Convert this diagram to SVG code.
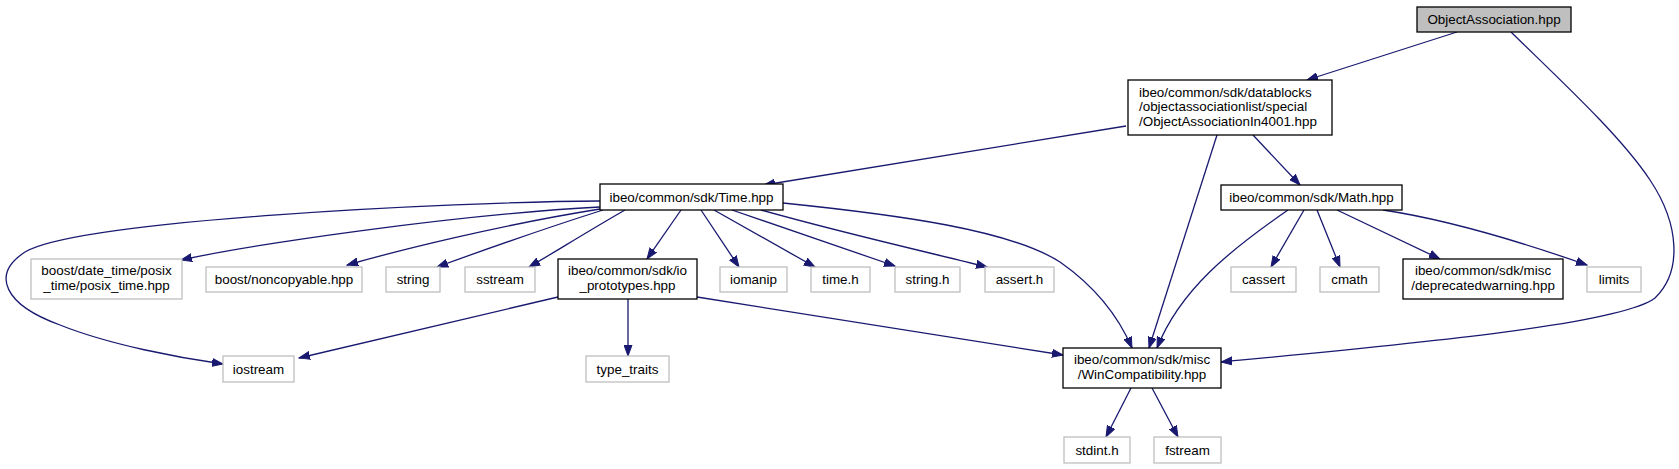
<svg xmlns="http://www.w3.org/2000/svg" width="1679" height="469" viewBox="0 0 1679 469">
<style>
.n rect{fill:#fff;stroke:#000;stroke-width:1.3}
.l rect{fill:#fff;stroke:#bfbfbf;stroke-width:1.3}
.r rect{fill:#bfbfbf;stroke:#000;stroke-width:1.3}
text{font-family:"Liberation Sans",Arial,sans-serif;font-size:13.4px;fill:#000;text-anchor:middle}
text.s{text-anchor:start}
#edges path{fill:none;stroke:#191970;stroke-width:1.3;marker-end:url(#a)}
</style>
<defs>
<marker id="a" markerUnits="userSpaceOnUse" markerWidth="12" markerHeight="9" refX="11" refY="4.5" orient="auto">
<path d="M0,0.5 L11,4.5 L0,8.5 z" fill="#191970" stroke="#191970" stroke-width="1"/>
</marker>
</defs>
<rect width="1679" height="469" fill="#fff"/>
<g id="edges">
<path d="M1457,32 L1307,80"/>
<path d="M1511,32 C1560,80 1620,135 1650,180 C1680,225 1682,272 1655,298 C1620,325 1400,345 1221,362"/>
<path d="M1126,126 L764,185"/>
<path d="M1217,135 L1149,348"/>
<path d="M1253,135 L1300,185"/>
<path d="M681,210 L647,259"/>
<path d="M701,210 L739,267"/>
<path d="M714,210 L815,267"/>
<path d="M732,210 L895,266"/>
<path d="M761,210 C850,235 940,255 987,267"/>
<path d="M783,203 C900,215 1010,230 1060,262 C1100,290 1120,320 1132,348"/>
<path d="M600,201 C450,202 80,220 25,252 C-10,275 5,305 60,325 C110,345 180,358 223,364"/>
<path d="M600,207 C450,215 250,245 181,260"/>
<path d="M600,209 C500,225 400,250 347,265"/>
<path d="M603,210 C540,230 470,255 437,267"/>
<path d="M625,210 C590,230 550,255 529,267"/>
<path d="M558,297 L299,358"/>
<path d="M628,299 L628,356"/>
<path d="M697,297 L1063,355"/>
<path d="M1288,210 C1230,250 1180,290 1157,348"/>
<path d="M1304,210 L1271,267"/>
<path d="M1317,210 L1340,267"/>
<path d="M1337,210 L1440,259"/>
<path d="M1383,210 C1450,220 1530,245 1587,265"/>
<path d="M1131,388 L1106,437"/>
<path d="M1152,388 L1178,437"/>
</g>
<g id="n_root" class="r"><rect x="1417" y="7" width="154" height="25"/><text x="1494" y="23.5">ObjectAssociation.hpp</text></g>
<g id="n_in4001" class="n"><rect x="1128" y="80" width="204" height="55"/><text class="s" x="1139" y="97">ibeo/common/sdk/datablocks</text><text class="s" x="1139" y="111">/objectassociationlist/special</text><text class="s" x="1139" y="125.5">/ObjectAssociationIn4001.hpp</text></g>
<g id="n_time" class="n"><rect x="600" y="184" width="183" height="26"/><text x="691.5" y="201.5">ibeo/common/sdk/Time.hpp</text></g>
<g id="n_math" class="n"><rect x="1221" y="185" width="181" height="25"/><text x="1311.5" y="202">ibeo/common/sdk/Math.hpp</text></g>
<g id="n_datetime" class="l"><rect x="31" y="259" width="151" height="40"/><text x="106.5" y="274.5">boost/date_time/posix</text><text x="106.5" y="290">_time/posix_time.hpp</text></g>
<g id="n_noncopyable" class="l"><rect x="206" y="267" width="156" height="25"/><text x="284" y="284">boost/noncopyable.hpp</text></g>
<g id="n_string" class="l"><rect x="386" y="267" width="54" height="25"/><text x="413" y="284">string</text></g>
<g id="n_sstream" class="l"><rect x="465" y="267" width="70" height="25"/><text x="500" y="284">sstream</text></g>
<g id="n_io" class="n"><rect x="558" y="259" width="139" height="40"/><text x="627.5" y="274.5">ibeo/common/sdk/io</text><text x="627.5" y="290">_prototypes.hpp</text></g>
<g id="n_iomanip" class="l"><rect x="720" y="267" width="67" height="25"/><text x="753.5" y="284">iomanip</text></g>
<g id="n_timeh" class="l"><rect x="811" y="267" width="59" height="25"/><text x="840.5" y="284">time.h</text></g>
<g id="n_stringh" class="l"><rect x="895" y="267" width="65" height="25"/><text x="927.5" y="284">string.h</text></g>
<g id="n_asserth" class="l"><rect x="985" y="267" width="69" height="25"/><text x="1019.5" y="284">assert.h</text></g>
<g id="n_cassert" class="l"><rect x="1231" y="267" width="65" height="25"/><text x="1263.5" y="284">cassert</text></g>
<g id="n_cmath" class="l"><rect x="1320" y="267" width="59" height="25"/><text x="1349.5" y="284">cmath</text></g>
<g id="n_deprecated" class="n"><rect x="1403" y="259" width="160" height="40"/><text x="1483" y="274.5">ibeo/common/sdk/misc</text><text x="1483" y="290">/deprecatedwarning.hpp</text></g>
<g id="n_limits" class="l"><rect x="1587" y="267" width="54" height="25"/><text x="1614" y="284">limits</text></g>
<g id="n_iostream" class="l"><rect x="223" y="356" width="71" height="26"/><text x="258.5" y="373.5">iostream</text></g>
<g id="n_typetraits" class="l"><rect x="586" y="356" width="83" height="26"/><text x="627.5" y="373.5">type_traits</text></g>
<g id="n_wincompat" class="n"><rect x="1063" y="348" width="158" height="40"/><text x="1142" y="363.5">ibeo/common/sdk/misc</text><text x="1142" y="379">/WinCompatibility.hpp</text></g>
<g id="n_stdint" class="l"><rect x="1064" y="437" width="66" height="26"/><text x="1097" y="454.5">stdint.h</text></g>
<g id="n_fstream" class="l"><rect x="1154" y="437" width="67" height="26"/><text x="1187.5" y="454.5">fstream</text></g>
</svg>
